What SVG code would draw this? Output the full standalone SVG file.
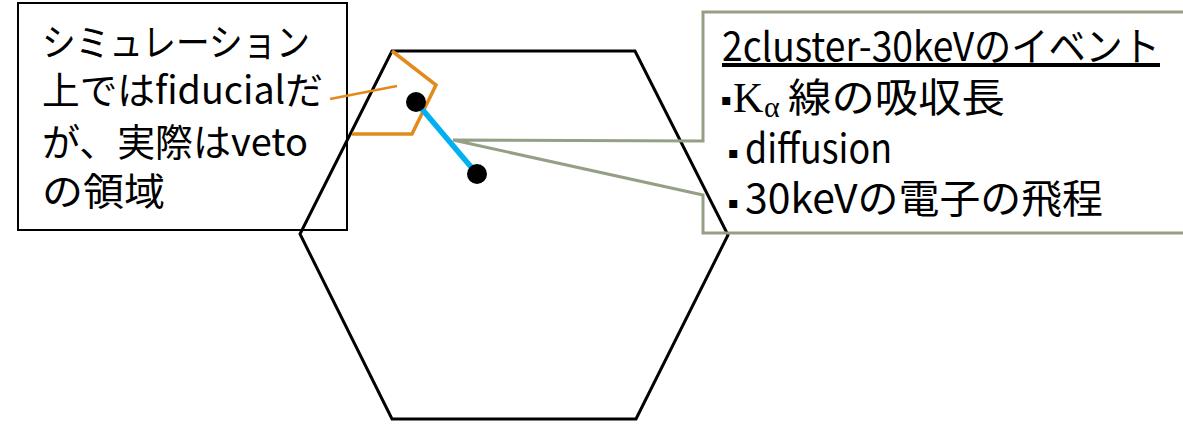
<svg xmlns="http://www.w3.org/2000/svg" width="1183" height="425" viewBox="0 0 1183 425">
<style>
.t{font-family:"Noto Sans CJK JP","Noto Sans",sans-serif;fill:#000}
.l{font-size:38px}
.r{font-size:40px}
.b{font-family:"DejaVu Sans",sans-serif;font-size:16px}
.k{font-family:"Liberation Serif",serif;font-size:42px}
.a{font-family:"Liberation Serif",serif;font-size:30px}
</style>
<rect width="1183" height="425" fill="#fff"/>
<g id="hexagon">
<polygon points="392,51 635,51 728,235 636,419 392,419 300,234" fill="none" stroke="#000" stroke-width="3" stroke-linejoin="miter"/>
</g>
<g id="fiducial-region">
<polyline points="352,134 412,134 436,85 392,51" fill="none" stroke="#E38A1C" stroke-width="3.5"/>
</g>
<g id="track">
<line x1="416" y1="102" x2="477" y2="174" stroke="#00B0F0" stroke-width="5.5"/>
<circle cx="416" cy="102" r="10" fill="#000"/>
<circle cx="477" cy="174" r="10" fill="#000"/>
</g>
<g id="note-left">
<rect x="18" y="3" width="329" height="227" fill="none" stroke="#000" stroke-width="2"/>
<text class="t l" x="42" y="56" textLength="268" lengthAdjust="spacingAndGlyphs">シミュレーション</text>
<text class="t l" x="42" y="104" textLength="281" lengthAdjust="spacingAndGlyphs">上ではfiducialだ</text>
<text class="t l" x="42" y="156" textLength="266" lengthAdjust="spacingAndGlyphs">が、実際はveto</text>
<text class="t l" x="42" y="205" textLength="123" lengthAdjust="spacingAndGlyphs">の領域</text>
</g>
<g id="note-right">
<path d="M703,12 H1190 V233 H703 V195 L453,140 L703,141 Z" fill="none" stroke="#959F86" stroke-width="3" stroke-linejoin="miter"/>
<text class="t r" x="722" y="61" textLength="438" lengthAdjust="spacingAndGlyphs" text-decoration="underline">2cluster-30keVのイベント</text>
<text class="b" x="721" y="105">▪</text>
<text class="k" x="733" y="112">K</text>
<text class="a" x="764" y="117">α</text>
<text class="t r" x="788" y="112" textLength="217" lengthAdjust="spacingAndGlyphs">線の吸収長</text>
<text class="b" x="728" y="158">▪</text>
<text class="t r" x="745" y="163" textLength="147" lengthAdjust="spacingAndGlyphs">diffusion</text>
<text class="b" x="728" y="208">▪</text>
<text class="t r" x="745" y="213" textLength="358" lengthAdjust="spacingAndGlyphs">30keVの電子の飛程</text>
</g>
<g id="connectors">
<line x1="330" y1="99" x2="397" y2="86" stroke="#E38A1C" stroke-width="2.5"/>
</g>
</svg>
